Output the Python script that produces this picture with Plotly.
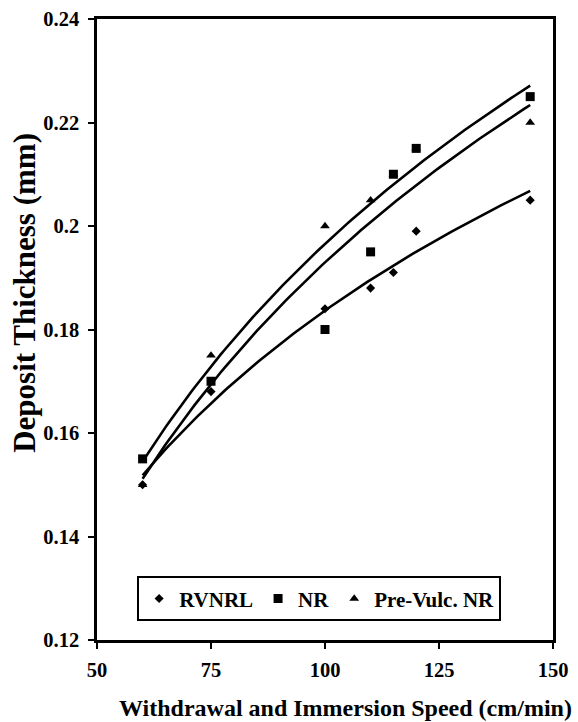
import numpy as np
import plotly.graph_objects as go

# Data
speed_rvnrl = [60, 75, 100, 110, 115, 120, 145]
thick_rvnrl = [0.150, 0.168, 0.184, 0.188, 0.191, 0.199, 0.205]

speed_nr = [60, 75, 100, 110, 115, 120, 145]
thick_nr = [0.155, 0.170, 0.180, 0.195, 0.210, 0.215, 0.225]

speed_pv = [60, 75, 100, 110, 115, 120, 145]
thick_pv = [0.150, 0.175, 0.200, 0.205, 0.210, 0.215, 0.220]

x_ticks = [50, 75, 100, 125, 150]
y_ticks = [0.12, 0.14, 0.16, 0.18, 0.20, 0.22, 0.24]
y_tick_text = ["0.12", "0.14", "0.16", "0.18", "0.2", "0.22", "0.24"]

FONT = "Liberation Serif"

fig = go.Figure()


def log_trend(xs, ys):
    xs = np.asarray(xs, float)
    ys = np.asarray(ys, float)
    a, b = np.polyfit(np.log(xs), ys, 1)
    xf = np.linspace(xs.min(), xs.max(), 120)
    return xf, a * np.log(xf) + b


series = [
    ("RVNRL", speed_rvnrl, thick_rvnrl, "diamond", 7, 1),
    ("NR", speed_nr, thick_nr, "square", 9, 2),
    ("Pre-Vulc. NR", speed_pv, thick_pv, "triangle-up", 8.5, 3),
]

# trendlines
for name, xs, ys, sym, sz, rank in series:
    xf, yf = log_trend(xs, ys)
    fig.add_trace(go.Scatter(x=xf, y=yf, mode="lines",
                             line=dict(color="black", width=2.6),
                             showlegend=False, hoverinfo="skip"))

# markers (triangles drawn before squares so overlapping ones are hidden)
for name, xs, ys, sym, sz, rank in [series[0], series[2], series[1]]:
    fig.add_trace(go.Scatter(x=xs, y=ys, mode="markers", name=name,
                             legendrank=rank,
                             marker=dict(symbol=sym, size=sz, color="black",
                                         line=dict(width=0))))

axis_common = dict(
    showline=True, linecolor="black", linewidth=2.5, mirror=True,
    ticks="outside", tickcolor="black", ticklen=6, tickwidth=1.5,
    showgrid=False, zeroline=False, automargin=False,
    tickfont=dict(family=FONT, size=20.5, color="black", weight="bold"),
)

fig.update_layout(
    width=578, height=722,
    margin=dict(l=97, r=25, t=19, b=82),
    paper_bgcolor="white", plot_bgcolor="white",
    font=dict(family=FONT, color="black"),
    xaxis=dict(range=[50, 150], tickvals=x_ticks, ticklabelstandoff=4,
               **axis_common),
    yaxis=dict(range=[0.12, 0.24], tickvals=y_ticks, ticktext=y_tick_text,
               ticklabelstandoff=5, **axis_common),
    legend=dict(orientation="h", x=0.088, y=0.03, xanchor="left",
                yanchor="bottom",
                bgcolor="white", bordercolor="black", borderwidth=2,
                font=dict(family=FONT, size=21, color="black", weight="bold"),
                itemwidth=30, tracegroupgap=0),
    showlegend=True,
    annotations=[
        dict(text="<b>Withdrawal and Immersion Speed (cm/min)</b>",
             xref="paper", yref="paper", x=0.546, y=-0.11,
             xanchor="center", yanchor="middle", showarrow=False,
             font=dict(family=FONT, size=24, color="black")),
        dict(text="<b>Deposit Thickness (mm)</b>", textangle=-90,
             xref="paper", yref="paper", x=-0.158, y=0.559,
             xanchor="center", yanchor="middle", showarrow=False,
             font=dict(family=FONT, size=31, color="black")),
    ],
)

fig.write_html("out.html")
